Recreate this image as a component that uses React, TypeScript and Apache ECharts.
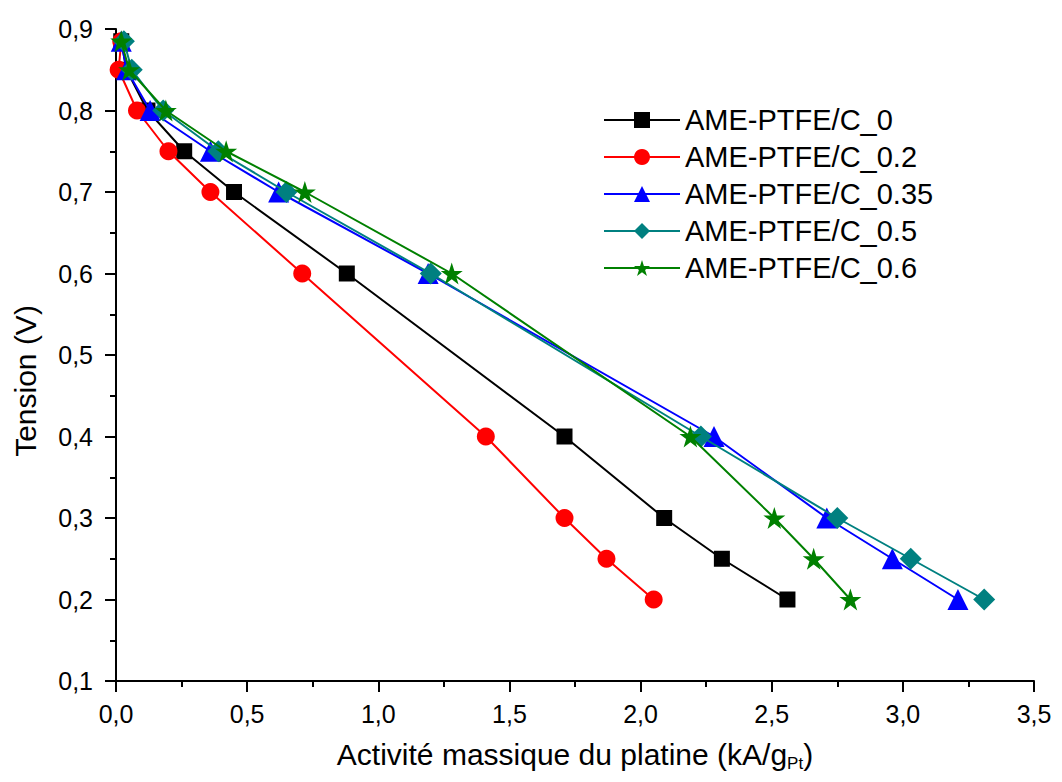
import React, { useEffect, useRef } from "react";
import * as echarts from "echarts";

const seriesNames = [
  "AME-PTFE/C_0",
  "AME-PTFE/C_0.2",
  "AME-PTFE/C_0.35",
  "AME-PTFE/C_0.5",
  "AME-PTFE/C_0.6",
];

const tension = [0.885, 0.85, 0.8, 0.75, 0.7, 0.6, 0.4, 0.3, 0.25, 0.2];

const activityC0 = [0.02, 0.04, 0.12, 0.26, 0.45, 0.88, 1.71, 2.09, 2.31, 2.56];
const activityC02 = [0.02, 0.01, 0.08, 0.2, 0.36, 0.71, 1.41, 1.71, 1.87, 2.05];
const activityC035 = [0.02, 0.04, 0.13, 0.36, 0.62, 1.19, 2.28, 2.71, 2.96, 3.21];
const activityC05 = [0.03, 0.06, 0.18, 0.39, 0.65, 1.2, 2.23, 2.75, 3.03, 3.31];
const activityC06 = [0.02, 0.05, 0.19, 0.42, 0.72, 1.28, 2.19, 2.51, 2.66, 2.8];

const colors = ["#000000", "#ff0000", "#0000ff", "#008080", "#008000"];
const STAR =
  "path://M50,0 L61.8,35.1 L98.9,35.1 L68.9,56.9 L80.3,92.1 L50,70.3 L19.7,92.1 L31.1,56.9 L1.1,35.1 L38.2,35.1 Z";
const symbols = ["rect", "circle", "triangle", "diamond", STAR];
const symbolSizes = [16, 18, 21, 22, 22];

export default function App() {
  const ref = useRef<HTMLDivElement>(null);
  useEffect(() => {
    if (!ref.current) return;
    const chart = echarts.init(ref.current, null, { renderer: "svg" });
    const all = [activityC0, activityC02, activityC035, activityC05, activityC06];
    const font = "Liberation Sans, Arial, sans-serif";
    const tickLabel = {
      fontFamily: font,
      fontSize: 25,
      color: "#000",
      formatter: (v: number) => v.toFixed(1).replace(".", ","),
    };
    chart.setOption({
      animation: false,
      backgroundColor: "#ffffff",
      grid: { left: 108, right: 20, top: 21, bottom: 93, containLabel: false, outerBoundsMode: "none" },
      legend: {
        orient: "vertical",
        left: 590,
        top: 92,
        itemWidth: 76,
        itemHeight: 20,
        itemGap: 7,
        data: seriesNames,
        textStyle: { fontFamily: font, fontSize: 29, lineHeight: 30, color: "#000" },
      },
      xAxis: {
        type: "value",
        min: 0,
        max: 3.5,
        interval: 0.5,
        name: "{n|Activité massique du platine (kA/g}{s|Pt}{n|)}",
        nameLocation: "middle",
        nameGap: 56,
        nameTextStyle: {
          rich: {
            n: { fontFamily: font, fontSize: 30, color: "#000" },
            s: { fontFamily: font, fontSize: 17, color: "#000", verticalAlign: "bottom", padding: [18, 0, 0, 0] },
          },
        },
        axisLine: { show: true, onZero: false, lineStyle: { color: "#000", width: 2 } },
        axisTick: { show: true, inside: false, length: 11, lineStyle: { color: "#000", width: 2 } },
        minorTick: { show: true, splitNumber: 2, length: 6, lineStyle: { color: "#000", width: 2 } },
        splitLine: { show: false },
        axisLabel: { ...tickLabel, margin: 20 },
      },
      yAxis: {
        type: "value",
        min: 0.1,
        max: 0.9,
        interval: 0.1,
        name: "Tension (V)",
        nameLocation: "middle",
        nameGap: 76,
        nameTextStyle: { fontFamily: font, fontSize: 30, color: "#000", padding: [0, 52, 0, 0] },
        axisLine: { show: true, onZero: false, lineStyle: { color: "#000", width: 2 } },
        axisTick: { show: true, inside: false, length: 11, lineStyle: { color: "#000", width: 2 } },
        minorTick: { show: true, splitNumber: 2, length: 6, lineStyle: { color: "#000", width: 2 } },
        splitLine: { show: false },
        axisLabel: { ...tickLabel, margin: 23 },
      },
      series: seriesNames.map((name, i) => ({
        name,
        type: "line",
        data: all[i].map((x, j) => [x, tension[j]]),
        symbol: symbols[i],
        symbolSize: symbolSizes[i],
        showAllSymbol: true,
        color: colors[i],
        lineStyle: { color: colors[i], width: 2 },
        itemStyle: { color: colors[i] },
        z: 2 + i,
      })),
    });
    return () => chart.dispose();
  }, []);
  return <div ref={ref} style={{ width: 1046, height: 766 }} />;
}
